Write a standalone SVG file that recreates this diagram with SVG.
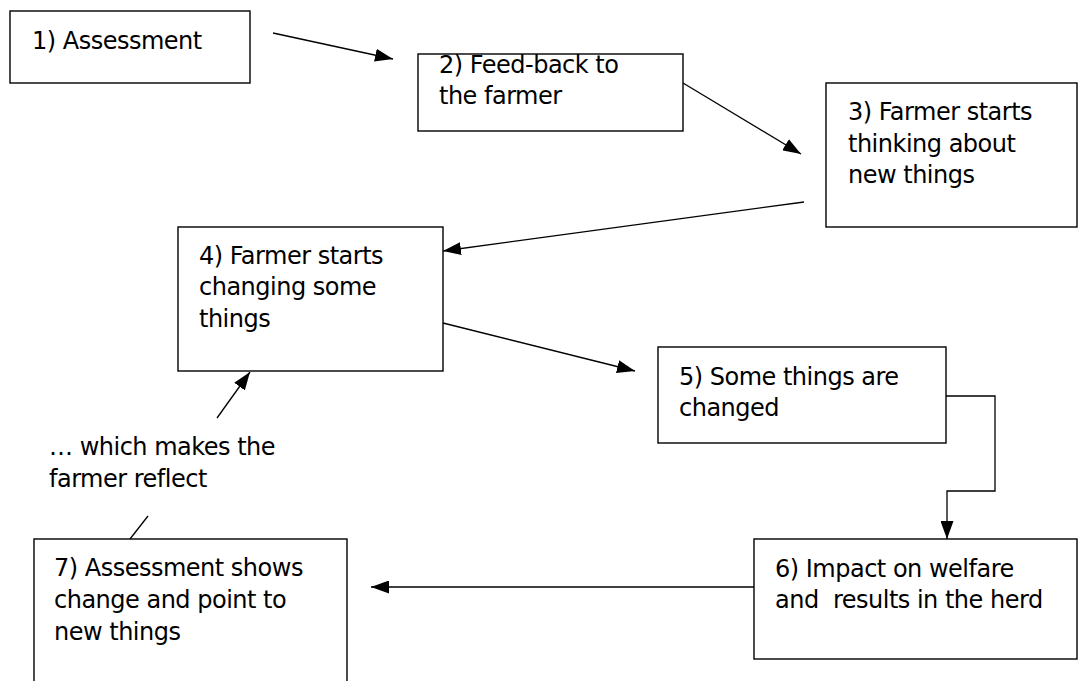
<svg xmlns="http://www.w3.org/2000/svg" width="1080" height="681" viewBox="0 0 1080 681">
<style>
.box{fill:#fff;stroke:#000;stroke-width:1.4}
.t{font-family:"DejaVu Sans",Verdana,sans-serif;font-size:24px;letter-spacing:-0.5px;fill:#000}
.c{fill:none;stroke:#000;stroke-width:1.3}
</style>
<defs>
<marker id="ah" markerUnits="userSpaceOnUse" markerWidth="18" markerHeight="13" refX="18" refY="6.5" orient="auto">
<path d="M0,0 L18,6.5 L0,13 z" fill="#000"/>
</marker>
</defs>
<rect width="1080" height="681" fill="#fff"/>
<g id="n1"><rect class="box" x="10" y="11" width="240" height="72"/><text class="t" x="32" y="49">1) Assessment</text></g>
<g id="n2"><rect class="box" x="418" y="54" width="265" height="77"/><text class="t" x="439" y="73">2) Feed-back to</text><text class="t" x="439" y="104">the farmer</text></g>
<g id="n3"><rect class="box" x="826" y="83" width="251" height="144"/><text class="t" x="848" y="120">3) Farmer starts</text><text class="t" x="848" y="152">thinking about</text><text class="t" x="848" y="183">new things</text></g>
<g id="n4"><rect class="box" x="178" y="227" width="265" height="144"/><text class="t" x="199" y="264">4) Farmer starts</text><text class="t" x="199" y="295">changing some</text><text class="t" x="199" y="327">things</text></g>
<g id="n5"><rect class="box" x="658" y="347" width="288" height="96"/><text class="t" x="679" y="385">5) Some things are</text><text class="t" x="679" y="416">changed</text></g>
<g id="n6"><rect class="box" x="754" y="539" width="323" height="120"/><text class="t" x="775" y="577">6) Impact on welfare</text><text class="t" x="775" y="608" xml:space="preserve">and  results in the herd</text></g>
<g id="n7"><rect class="box" x="34" y="539" width="313" height="160"/><text class="t" x="54" y="576">7) Assessment shows</text><text class="t" x="54" y="608">change and point to</text><text class="t" x="54" y="640">new things</text></g>
<g id="label"><text class="t" x="49" y="455">… which makes the</text><text class="t" x="49" y="487">farmer reflect</text></g>
<g id="connectors">
<line class="c" x1="273" y1="33" x2="393" y2="59" marker-end="url(#ah)"/>
<line class="c" x1="683" y1="83" x2="801" y2="154" marker-end="url(#ah)"/>
<line class="c" x1="804" y1="202" x2="443" y2="251" marker-end="url(#ah)"/>
<line class="c" x1="443" y1="323" x2="635" y2="371" marker-end="url(#ah)"/>
<polyline class="c" points="946,396 995,396 995,491 947,491 947,539" marker-end="url(#ah)"/>
<line class="c" x1="754" y1="587" x2="371" y2="587" marker-end="url(#ah)"/>
<line class="c" x1="130" y1="539" x2="148" y2="516"/>
<line class="c" x1="217" y1="418" x2="250" y2="372" marker-end="url(#ah)"/>
</g>
</svg>
